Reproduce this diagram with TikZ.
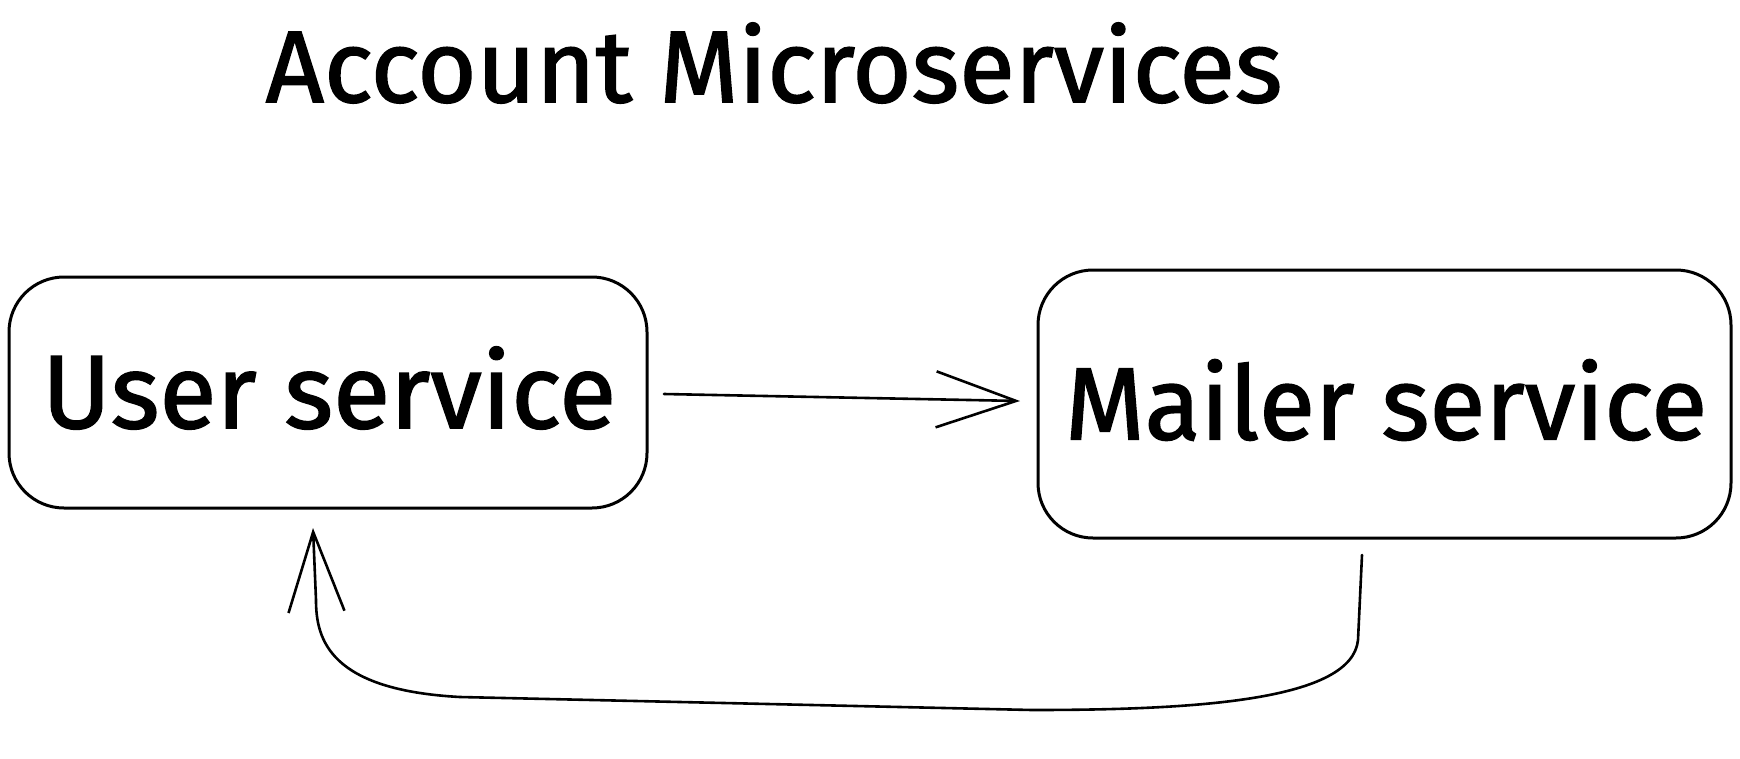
\documentclass[tikz,border=0pt]{standalone}
\usepackage{fontspec}
\setmainfont{Fira Sans}
\usetikzlibrary{arrows.meta}
\tikzset{
  box/.style={draw=black, line width=3pt, rounded corners=55pt},
  lbl/.style={inner sep=0pt, text=black},
  conn/.style={draw=black, line width=2.6pt, line cap=round, line join=round,
    -{Straight Barb[length=80pt, width=56pt, line width=2.6pt]}},
}
\begin{document}
\begin{tikzpicture}[x=1pt, y=-1pt]
\useasboundingbox[fill=white] (0,0) rectangle (1740,758);
% boxes
\draw[box] (9,277) rectangle (647,508);
\draw[box] (1038,270) rectangle (1731,538);
\node[inner sep=0pt] (user) at (328,392.5) {};
\node[inner sep=0pt] (mailer) at (1384.5,404) {};
% texts
\node[lbl] (title) at (774,63) {\resizebox{1016pt}{!}{\fontspec{Fira Sans}[FakeBold=1.5]Account Microservices}};
\node[lbl] (usertext) at (329,388) {\resizebox{574pt}{!}{\fontspec{Fira Sans}[FakeBold=1.5]User service}};
\node[lbl] (mailertext) at (1386,400) {\resizebox{642pt}{!}{\fontspec{Fira Sans}[FakeBold=1.5]Mailer service}};
% connectors
\coordinate (a1) at (664,394);
\coordinate (a2) at (1020,401);
\draw[conn] (a1) -- (a2);
\coordinate (b1) at (1362,555);
\coordinate (b2) at (313,528);
\draw[conn] (b1) -- (1358,640) .. controls (1352,700) and (1200,710) .. (1032,710)
  -- (460,697) .. controls (330,690) and (316,640) .. (316,600) -- (b2);
\end{tikzpicture}
\end{document}
